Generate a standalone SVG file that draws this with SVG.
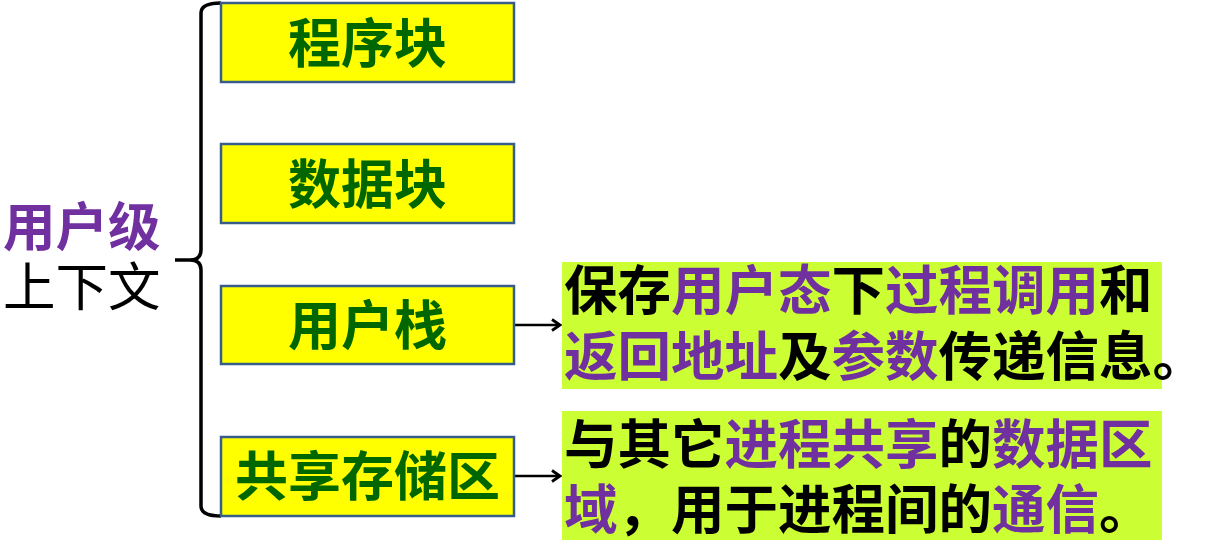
<svg xmlns="http://www.w3.org/2000/svg" width="1206" height="542" viewBox="0 0 1206 542">
<style>
text{font-family:"Noto Sans CJK SC","Noto Sans CJK JP",sans-serif;}
.box{fill:#FFFF00;stroke:#385D8A;stroke-width:2.5;}
.lbl{font-size:53px;font-weight:bold;fill:#006600;text-anchor:middle;}
.note{fill:#CCFF33;}
.nt{font-size:53.5px;font-weight:bold;fill:#000;}
.p{fill:#7030A0;}
.conn{fill:none;stroke:#000;stroke-width:2.5;}
</style>
<defs>
<marker id="ah" markerWidth="14" markerHeight="14" refX="11" refY="7" orient="auto" markerUnits="userSpaceOnUse">
<path d="M3,1.5 L11,7 L3,12.5" fill="none" stroke="#000" stroke-width="2.8"/>
</marker>
</defs>
<g id="title">
<text x="3" y="246" font-size="52.5" font-weight="bold" fill="#7030A0">用户级</text>
<text x="3" y="306" font-size="52.5" fill="#000">上下文</text>
</g>
<g id="connectors">
<path class="conn" style="stroke-width:3.5" d="M221,3 Q201,3 201,13 L201,250 Q201,260 190,260 L175,260 M190,260 Q201,260 201,270 L201,506 Q201,516 221,516"/>
<line class="conn" x1="514" y1="325" x2="560" y2="325" marker-end="url(#ah)"/>
<line class="conn" x1="514" y1="476" x2="560" y2="476" marker-end="url(#ah)"/>
</g>
<g id="node-program">
<rect class="box" x="221" y="3" width="293" height="79"/>
<text class="lbl" x="367.5" y="63">程序块</text>
</g>
<g id="node-data">
<rect class="box" x="221" y="144" width="293" height="79"/>
<text class="lbl" x="367.5" y="204">数据块</text>
</g>
<g id="node-stack">
<rect class="box" x="221" y="286" width="293" height="78"/>
<text class="lbl" x="367.5" y="345">用户栈</text>
</g>
<g id="node-shared">
<rect class="box" x="221" y="437" width="293" height="79"/>
<text class="lbl" x="367.5" y="496">共享存储区</text>
</g>
<g id="note-stack">
<rect class="note" x="562" y="262" width="600" height="127"/>
<text class="nt" x="564" y="310">保存<tspan class="p">用户态</tspan>下<tspan class="p">过程调用</tspan>和</text>
<text class="nt" x="564" y="376"><tspan class="p">返回地址</tspan>及<tspan class="p">参数</tspan>传递信息。</text>
</g>
<g id="note-shared">
<rect class="note" x="562" y="411" width="600" height="129"/>
<text class="nt" x="564" y="464">与其它<tspan class="p">进程共享</tspan>的<tspan class="p">数据区</tspan></text>
<text class="nt" x="564" y="529"><tspan class="p">域</tspan>，用于进程间的<tspan class="p">通信</tspan>。</text>
</g>
</svg>
